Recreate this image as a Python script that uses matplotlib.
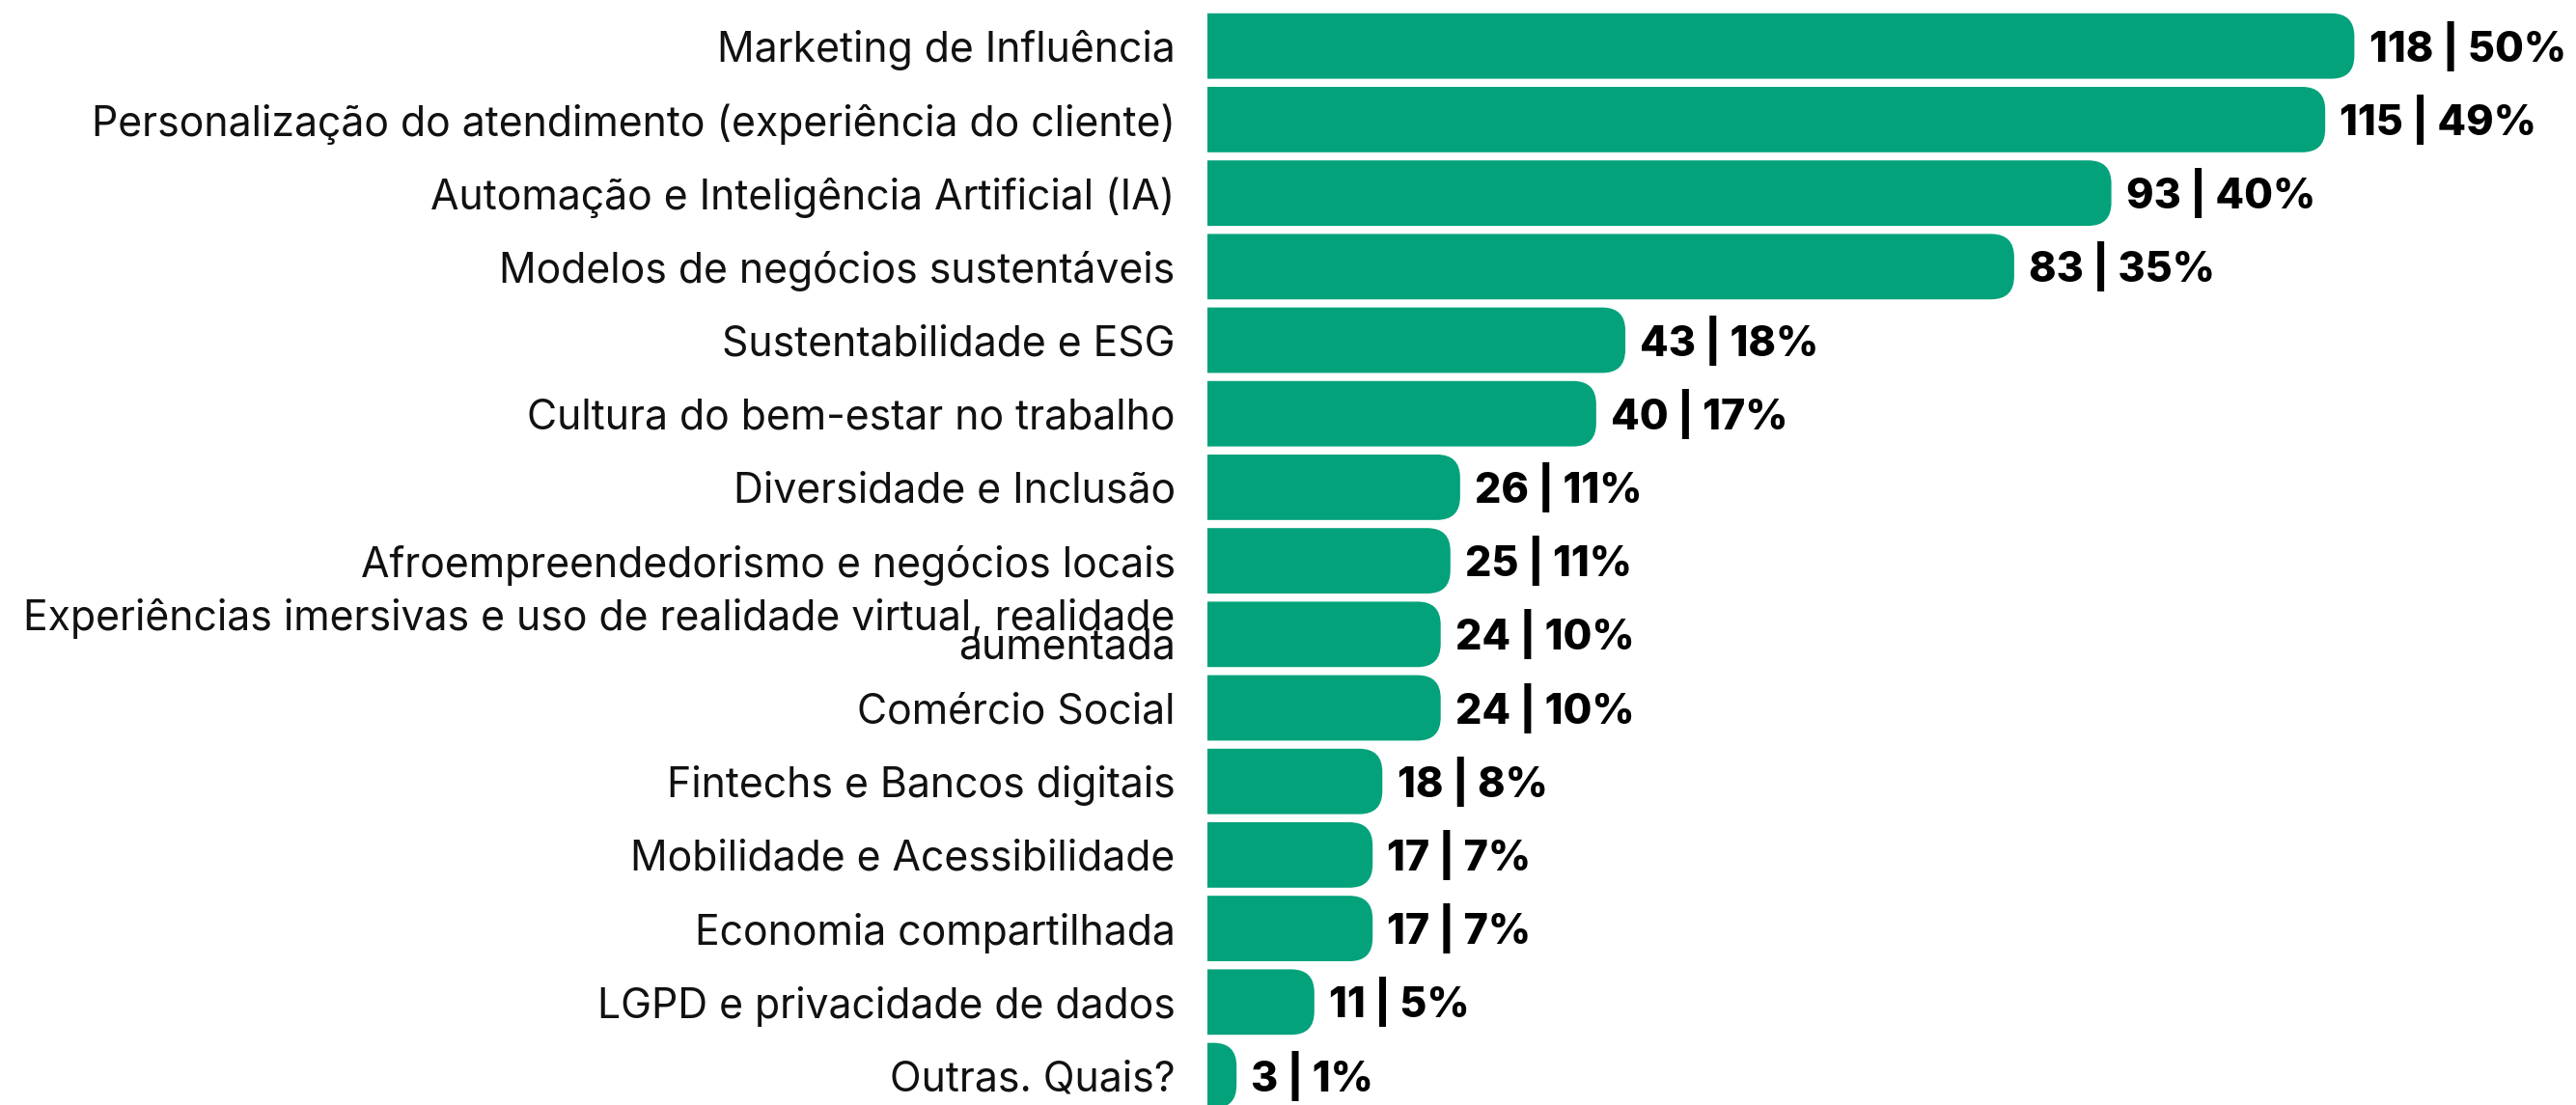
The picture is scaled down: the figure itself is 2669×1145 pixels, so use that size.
import matplotlib
matplotlib.use("Agg")
import matplotlib.pyplot as plt
from matplotlib.path import Path
from matplotlib.patches import PathPatch

categories = [
    "Marketing de Influência",
    "Personalização do atendimento (experiência do cliente)",
    "Automação e Inteligência Artificial (IA)",
    "Modelos de negócios sustentáveis",
    "Sustentabilidade e ESG",
    "Cultura do bem-estar no trabalho",
    "Diversidade e Inclusão",
    "Afroempreendedorismo e negócios locais",
    "Experiências imersivas e uso de realidade virtual, realidade\naumentada",
    "Comércio Social",
    "Fintechs e Bancos digitais",
    "Mobilidade e Acessibilidade",
    "Economia compartilhada",
    "LGPD e privacidade de dados",
    "Outras. Quais?",
]
counts = [118, 115, 93, 83, 43, 40, 26, 25, 24, 24, 18, 17, 17, 11, 3]
percents = [50, 49, 40, 35, 18, 17, 11, 11, 10, 10, 8, 7, 7, 5, 1]

COLOR = "#03A27B"
W, H, DPI = 2669, 1145, 100
fig = plt.figure(figsize=(W / DPI, H / DPI), dpi=DPI)
ax = fig.add_axes([1251 / W, 0, 1 - 1251 / W, 1])

y = list(range(len(categories)))
bars = ax.barh(y, counts, height=0.89, color=COLOR)
ax.set_xlim(0, 140.8)
ax.set_ylim(14.40, -0.626)

ax.set_yticks(y)
ax.set_yticklabels(categories, fontsize=30.8, fontfamily="Inter", color="#111111")
ax.tick_params(axis="y", length=0, pad=24)
for lab in ax.get_yticklabels():
    lab.set_linespacing(0.62)
ax.set_xticks([])
for s in ax.spines.values():
    s.set_visible(False)

fig.canvas.draw()
# rounded right corners
px_per_x = ax.transData.transform((1, 0))[0] - ax.transData.transform((0, 0))[0]
px_per_y = abs(ax.transData.transform((0, 1))[1] - ax.transData.transform((0, 0))[1])
r_px = 24
for b in bars:
    x0, y0 = b.get_x(), b.get_y()
    w, h = b.get_width(), b.get_height()
    rx = min(r_px / px_per_x, w)
    ry = min(r_px / px_per_y, h / 2)
    x1, y1 = x0 + w, y0 + h
    verts = [
        (x0, y0), (x1 - rx, y0), (x1, y0), (x1, y0 + ry),
        (x1, y1 - ry), (x1, y1), (x1 - rx, y1), (x0, y1), (x0, y0),
    ]
    codes = [Path.MOVETO, Path.LINETO, Path.CURVE3, Path.CURVE3,
             Path.LINETO, Path.CURVE3, Path.CURVE3, Path.LINETO, Path.CLOSEPOLY]
    ax.add_patch(PathPatch(Path(verts, codes), facecolor=COLOR, edgecolor="none"))
    b.set_visible(False)

for yi, c, p in zip(y, counts, percents):
    ax.annotate(f"{c} | {p}%", xy=(c, yi), xytext=(11, 0), textcoords="offset points",
                va="center", ha="left", fontsize=31, fontweight=800,
                fontfamily="Inter", color="#000000")

fig.savefig("out.png", dpi=DPI)
